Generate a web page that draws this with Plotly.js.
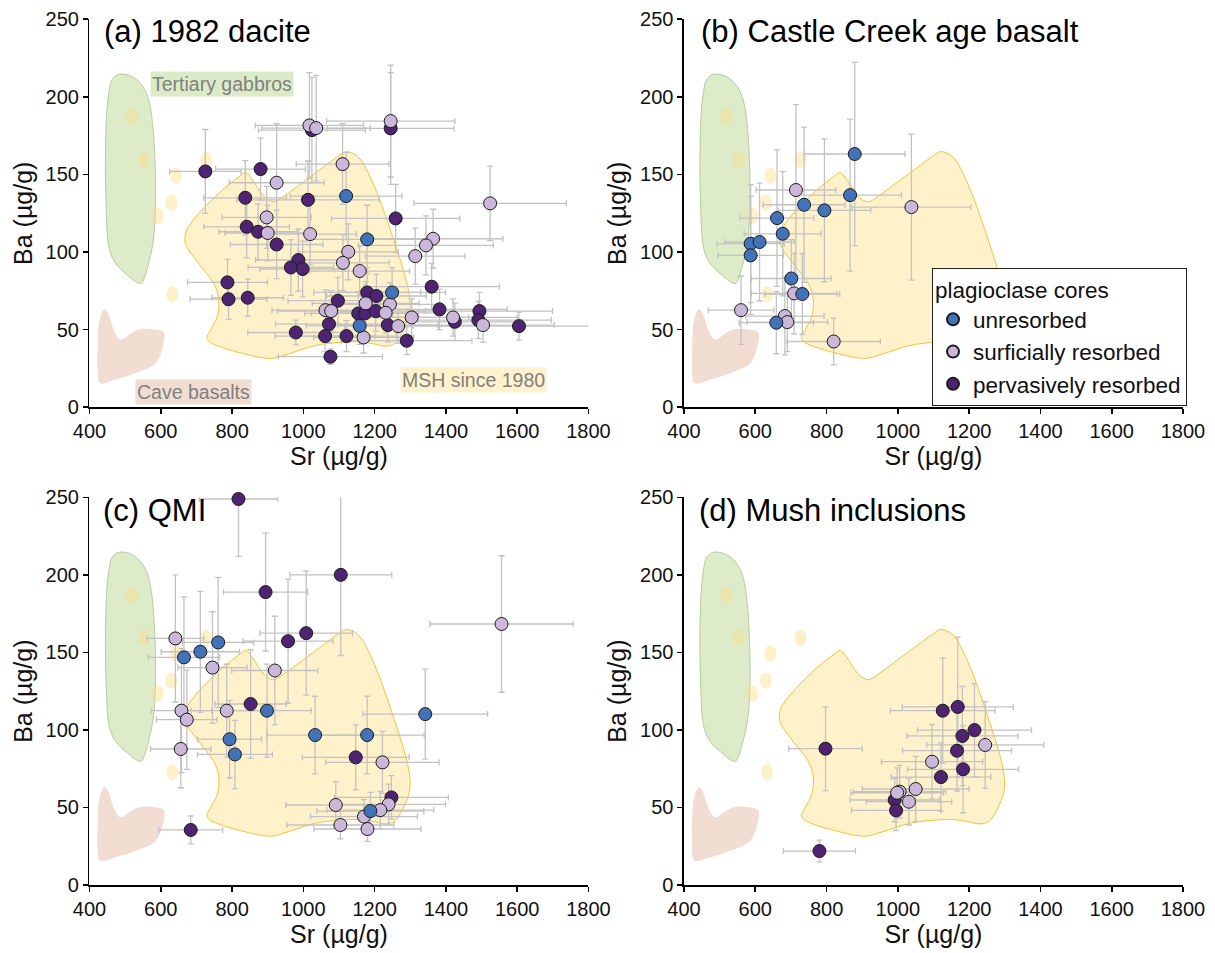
<!DOCTYPE html>
<html><head><meta charset="utf-8">
<script src="https://cdn.plot.ly/plotly-3.0.1.min.js"></script>
<style>html,body{margin:0;padding:0;background:#fff}#chart{width:1215px;height:953px}</style>
</head><body><div id="chart"></div>
<script>
const categories = ['unresorbed', 'surficially resorbed', 'pervasively resorbed'];
const catColors = ['#4272b8', '#cab7da', '#4e2372'];
const panelTitles = ['(a) 1982 dacite', '(b) Castle Creek age basalt', '(c) QMI', '(d) Mush inclusions'];
const xTicks = [400, 600, 800, 1000, 1200, 1400, 1600, 1800];
const yTicks = [0, 50, 100, 150, 200, 250];

// ---- Panel (a) 1982 dacite ----
const aPeX = [725,1024,1245,880,837,1013,1259,841,873,925,986,965,998,787,1360,790,844,1179,1205,1097,1382,1154,1173,1203,1425,1494,1491,1605,1072,1237,979,1061,1121,1290,1076];
const aPeY = [152,178.6,179.7,153.5,135,133.7,121.7,116.3,113.1,104.9,94.9,90.1,89.1,80.5,77.7,69.7,70.6,74,71.7,68.7,63.1,60.5,60.5,62,55.1,62,56.2,52.3,53.6,53,48.2,45.9,45.9,42.9,32.6];
const aPeEx = [100,150,178,126,116,200,180,120,110,130,120,120,120,112,190,108,100,150,140,140,190,150,150,140,190,205,205,225,150,140,135,140,140,183,146];
const aPeEy = [27,34,36,20,24,25,22,20,18,22,20,18,18,15,15,13,12,16,14,15,13,14,14,13,12,12,12,9,12,11,8,10,10,9,5];
const aSuX = [1017,1036,1245,925,1110,1524,897,900,1019,1364,1344,1126,1314,1111,1158,1175,1243,1062,1078,1231,1304,1420,1504,1266,1169];
const aSuY = [181.6,179.9,184.4,144.7,156.7,131.4,122.4,112.3,111.6,108.6,104.3,100.2,97.4,93.1,87.8,67,66.3,62.6,62,60.9,57.9,57.9,53,52.3,45];
const aSuEx = [152,152,180,133,130,214,125,120,130,196,189,140,140,130,140,150,140,150,150,150,160,180,200,150,140];
const aSuEy = [34,34,36,38,26,24,20,18,20,19,19,18,18,18,16,14,14,13,13,13,12,12,11,11,10];
const aUnX = [1120,1179,1249,1158];
const aUnY = [136.1,108.2,74,52.5];
const aUnEx = [157,170,150,150];
const aUnEy = [28,22,16,12];

// ---- Panel (b) Castle Creek age basalt ----
const bPeX = [], bPeY = [], bPeEx = [], bPeEy = [];
const bSuX = [714,1038,709,560,683,690,820];
const bSuY = [140,129,73.4,62.6,58.8,54.9,42.4];
const bSuEx = [112,167,120,92,110,113,131];
const bSuEy = [55,47,26,22,25,19,15];
const bUnX = [879,866,737,794,661,677,587,612,587,701,732,659];
const bUnY = [163.2,136.7,130.5,126.9,121.9,111.8,105.4,106.5,97.9,83,73,54.5];
const bUnEx = [141,144,115,130,104,108,94,97,92,112,105,104];
const bUnEy = [59,49,50,46,44,40,38,38,38,25,26,20];

// ---- Panel (c) QMI ----
const cPeX = [818,1105,894,1008,957,852,1147,1247,684];
const cPeY = [248.9,200,188.9,162.4,157.2,116.7,82.3,56.5,35.5];
const cPeEx = [110,143,118,130,126,100,150,160,90];
const cPeEy = [37,52,38,40,40,35,21,14,9];
const cSuX = [1556,641,745,920,658,785,673,656,1222,1091,1239,1216,1170,1104,1180];
const cSuY = [168.3,159,140.2,138.3,112.4,112.4,106.6,87.7,79.1,51.6,52,48.3,44.1,38.7,36.1];
const cSuEx = [201,80,97,121,85,100,85,85,159,140,160,150,150,150,150];
const cSuEy = [44,41,36,35,40,30,32,25,20,15,13,12,11,9,8];
const cUnX = [761,711,665,898,1342,1033,1179,793,808,1188];
const cUnY = [156.4,150.4,146.8,112.4,110.2,96.7,96.7,94,84.2,47.7];
const cUnEx = [100,110,100,124,175,135,160,90,105,150];
const cUnEy = [42,39,39,30,29,25,25,25,22,12];

// ---- Panel (d) Mush inclusions ----
const dPeX = [797,780,1126,1168,1215,1181,1166,1183,1121,991,995];
const dPeY = [87.9,21.9,112.4,114.8,99.9,96.1,86.6,74.6,69.6,54.8,48.1];
const dPeEx = [103,101,147,156,160,156,153,156,140,125,125];
const dPeEy = [27,7,34,45,30,32,26,28,22,14,13];
const dSuX = [1245,1096,1050,1005,998,1031];
const dSuY = [90.3,79.5,61.9,60.2,59.5,53.7];
const dSuEx = [164,142,150,130,130,120];
const dSuEy = [28,24,21,17,16,15];
const dUnX = [], dUnY = [], dUnEx = [], dUnEy = [];

// ---- Reference fields (outlines in Sr, Ba) ----
const gabbroX = [487.5,516,544.5,563.4,574.8,582.4,585.3,584.3,577.7,563.4,549.2,535,506.5,473.2,454.2,447.6,444.7,447.6,457.1,468.5];
const gabbroY = [214.7,213.4,208.3,200.1,187.2,165.7,144.3,122.8,105.6,90.6,80.9,80.2,85.2,92.7,103.5,122.8,155,187.2,206.6,212.6];
const caveX = [441.9,454.2,468.5,487.5,516,544.4,582.4,609,606.2,592,573,516,468.5,432.4,422.9,423.8,430.5];
const caveY = [63.1,59.4,49.7,43.7,47.6,50.4,50.2,48.0,39.0,30.4,26.1,20.8,17.5,15.4,21.8,47.6,58.3];
const mshX = [1123.8,1161.8,1199.7,1228.2,1256.7,1280.5,1294.7,1299.5,1292.8,1275.7,1256.7,1228.2,1190.2,1133.3,1038.3,962.3,905.3,829.4,753.4,729.6,739.1,758.1,762.9,748.6,705.9,672.7,667.9,677.4,715.4,772.4,819.9,838.9,857.8,886.3,914.8,943.3,1000.3,1057.3,1095.3];
const mshY = [164.7,159.3,142.1,124.9,105.6,88.4,75.5,64.8,56.2,47.6,41.2,39.4,41.2,42.2,40.1,34.7,31.5,34.7,40.1,44.4,49.7,58.3,69.1,79.8,92.7,103.4,109.9,116.3,127.1,139.9,148.6,151.1,146.4,136.7,132.4,135.7,145.3,155.0,161.4];
const blobX = [518,554,727,642,630,592,633];
const blobY = [187.2,159.3,159.3,149.2,131.8,123.4,72.7];
const fieldLabels = ['Tertiary gabbros', 'Cave basalts', 'MSH since 1980'];
const fieldLabelX = [772, 691, 1477];
const fieldLabelY = [208.3, 10, 17.3];

const FONT = '"Liberation Sans", Arial, Helvetica, sans-serif';

const panels = [
  {s: '',  sets: [[aPeX,aPeY,aPeEx,aPeEy],[aSuX,aSuY,aSuEx,aSuEy],[aUnX,aUnY,aUnEx,aUnEy]], legend: true},
  {s: '2', sets: [[bPeX,bPeY,bPeEx,bPeEy],[bSuX,bSuY,bSuEx,bSuEy],[bUnX,bUnY,bUnEx,bUnEy]], legend: false},
  {s: '3', sets: [[cPeX,cPeY,cPeEx,cPeEy],[cSuX,cSuY,cSuEx,cSuEy],[cUnX,cUnY,cUnEx,cUnEy]], legend: false},
  {s: '4', sets: [[dPeX,dPeY,dPeEx,dPeEy],[dSuX,dSuY,dSuEx,dSuEy],[dUnX,dUnY,dUnEx,dUnEy]], legend: false}
];
// draw order: pervasively, surficially, unresorbed
const drawCat = [2, 1, 0];

const traces = [];
panels.forEach(p => {
  const ex = [], ey = [], ax = [], ay = [];
  p.sets.forEach(st => { ax.push(...st[0]); ay.push(...st[1]); ex.push(...st[2]); ey.push(...st[3]); });
  traces.push({
    type: 'scatter', mode: 'markers', x: ax, y: ay, cliponaxis: false,
    xaxis: 'x' + p.s, yaxis: 'y' + p.s,
    marker: {size: 2, color: 'rgba(0,0,0,0)'},
    error_x: {type: 'data', array: ex, color: '#c2c2c2', thickness: 1.3, width: 3},
    error_y: {type: 'data', array: ey, color: '#c2c2c2', thickness: 1.3, width: 3},
    showlegend: false, hoverinfo: 'skip'
  });
  p.sets.forEach((st, k) => {
    const ci = drawCat[k];
    traces.push({
      type: 'scatter', mode: 'markers', x: st[0], y: st[1], cliponaxis: false,
      xaxis: 'x' + p.s, yaxis: 'y' + p.s,
      name: categories[ci],
      marker: {size: 13, color: catColors[ci], line: {color: '#1b1b1b', width: 1}},
      showlegend: p.legend
    });
  });
});

function smoothPath(xs, ys) {
  const n = xs.length;
  const P = i => [xs[(i + n) % n], ys[(i + n) % n]];
  let d = 'M' + xs[0] + ',' + ys[0];
  for (let i = 0; i < n; i++) {
    const p0 = P(i - 1), p1 = P(i), p2 = P(i + 1), p3 = P(i + 2);
    const c1 = [p1[0] + (p2[0] - p0[0]) / 6, p1[1] + (p2[1] - p0[1]) / 6];
    const c2 = [p2[0] - (p3[0] - p1[0]) / 6, p2[1] - (p3[1] - p1[1]) / 6];
    d += ' C' + c1[0].toFixed(2) + ',' + c1[1].toFixed(2) + ' ' + c2[0].toFixed(2) + ',' + c2[1].toFixed(2) + ' ' + p2[0] + ',' + p2[1];
  }
  return d + ' Z';
}

const shapes = [];
['', '2', '3', '4'].forEach(s => {
  const xr = 'x' + s, yr = 'y' + s;
  shapes.push({type: 'path', xref: xr, yref: yr, layer: 'below', path: smoothPath(gabbroX, gabbroY), fillcolor: '#ddebc8', line: {color: '#a8c28b', width: 0.8}});
  shapes.push({type: 'path', xref: xr, yref: yr, layer: 'below', path: smoothPath(caveX, caveY), fillcolor: '#f2ddd3', line: {width: 0}});
  shapes.push({type: 'path', xref: xr, yref: yr, layer: 'below', path: smoothPath(mshX, mshY), fillcolor: '#fff2cb', line: {color: '#f5c232', width: 1}});
  blobX.forEach((bx, i) => {
    shapes.push({type: 'circle', xref: xr, yref: yr, layer: 'below', x0: bx - 17, x1: bx + 17, y0: blobY[i] - 5.3, y1: blobY[i] + 5.3, fillcolor: 'rgba(252,222,135,0.45)', line: {width: 0}});
  });
});

const annotations = [];
const titlePos = [[0.026, 0.968], [0.031, 0.968], [0.024, 0.967], [0.027, 0.967]];
['', '2', '3', '4'].forEach((s, i) => {
  annotations.push({xref: 'x' + s + ' domain', yref: 'y' + s + ' domain', x: titlePos[i][0], y: titlePos[i][1], xanchor: 'left', yanchor: 'middle', text: panelTitles[i], showarrow: false, font: {family: FONT, size: 31, color: '#000'}});
});
const labelBg = ['#dcebc7', '#f2ddd3', '#fff2cc'];
fieldLabels.forEach((t, i) => {
  annotations.push({xref: 'x', yref: 'y', x: fieldLabelX[i], y: fieldLabelY[i], text: t, showarrow: false, bgcolor: labelBg[i], borderpad: 1, font: {family: FONT, size: 19.5, color: '#808080'}});
});

function xAx(domain, anchor) {
  return {domain, anchor, range: [400, 1800], tickvals: xTicks, ticktext: xTicks.map(String), showline: true, linecolor: '#000', linewidth: 1.6,
    ticks: 'outside', ticklen: 5, tickwidth: 1.6, tickcolor: '#000', showgrid: false, zeroline: false, automargin: false,
    tickfont: {family: FONT, size: 20, color: '#111'}, title: {text: 'Sr (µg/g)', font: {family: FONT, size: 25, color: '#111'}, standoff: 6}};
}
function yAx(domain, anchor) {
  return {domain, anchor, range: [0, 250], tickvals: yTicks, ticktext: yTicks.map(String), showline: true, linecolor: '#000', linewidth: 1.6,
    ticks: 'outside', ticklen: 5, tickwidth: 1.6, tickcolor: '#000', showgrid: false, zeroline: false, automargin: false,
    tickfont: {family: FONT, size: 20, color: '#111'}, title: {text: 'Ba (µg/g)', font: {family: FONT, size: 25, color: '#111'}, standoff: 6}};
}
const dxL = [0.07366, 0.48436], dxR = [0.56296, 0.97366];
const dyT = [0.57261, 0.97975], dyB = [0.07135, 0.47817];

const layout = {
  width: 1215, height: 953, margin: {l: 0, r: 0, t: 0, b: 0},
  paper_bgcolor: '#fff', plot_bgcolor: '#fff', font: {family: FONT},
  xaxis: xAx(dxL, 'y'), yaxis: yAx(dyT, 'x'),
  xaxis2: xAx(dxR, 'y2'), yaxis2: yAx(dyT, 'x2'),
  xaxis3: xAx(dxL, 'y3'), yaxis3: yAx(dyB, 'x3'),
  xaxis4: xAx(dxR, 'y4'), yaxis4: yAx(dyB, 'x4'),
  shapes, annotations,
  showlegend: true,
  legend: {x: 0.7671, y: 0.7188, xanchor: 'left', yanchor: 'top', bgcolor: '#fff', bordercolor: '#222', borderwidth: 1,
    font: {family: FONT, size: 22.5, color: '#111'}, title: {text: 'plagioclase cores', font: {family: FONT, size: 22.5, color: '#111'}},
    traceorder: 'reversed', itemwidth: 30, tracegroupgap: 0, itemsizing: 'constant'}
};

Plotly.newPlot('chart', traces, layout, {displayModeBar: false, staticPlot: true});
</script>
</body></html>
